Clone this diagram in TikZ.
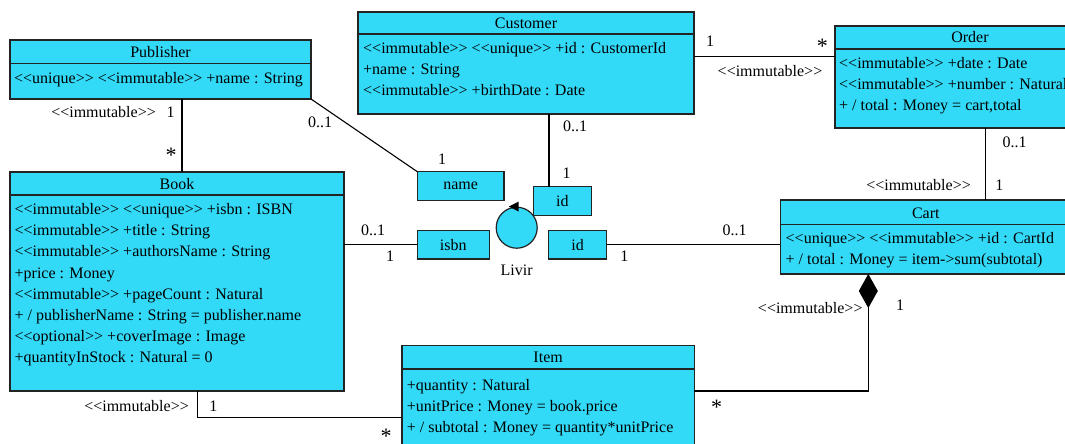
\documentclass[tikz,border=0pt]{standalone}
\usepackage{fontspec}
\setmainfont{Liberation Serif}[Ligatures=TeXOff]
\usetikzlibrary{calc,arrows.meta}
\definecolor{clsfill}{RGB}{51,218,248}
\definecolor{clsline}{RGB}{35,35,35}
\begin{document}
\begin{tikzpicture}[x=1pt,y=-1pt,
  font=\fontsize{16}{21}\selectfont,
  cls/.style={draw=clsline, fill=clsfill, line width=1.2pt, inner sep=0pt, outer sep=0pt, anchor=north west},
  keybox/.style={draw=clsline, fill=clsfill, line width=1.2pt, inner sep=0pt, outer sep=0pt, anchor=north west},
  sep/.style={draw=clsline, line width=1.2pt},
  attr/.style={anchor=base west, inner sep=0pt},
  ttl/.style={anchor=base, inner sep=0pt},
  lbl/.style={anchor=base, inner sep=0pt},
  lble/.style={anchor=base east, inner sep=0pt},
  star/.style={anchor=base, inner sep=0pt, font=\fontsize{22}{22}\selectfont, yshift=-11pt},
  conn/.style={draw=black, line width=1.1pt},
]
\clip (0,0) rectangle (1065,444);
\fill[white] (0,0) rectangle (1065,444);

% ---------- Publisher
\node[cls, minimum width=301pt, minimum height=59pt] (pub) at (10,40) {};
\draw[sep] ($(pub.north west)+(0,23.3)$) -- ($(pub.north east)+(0,23.3)$);
\node[ttl] (pubT) at ($(pub.north)+(0,17.2)$) {Publisher};
\node[attr] (pubA1) at (14,84) {<<unique>> <<immutable>> +name : String};

% ---------- Customer
\node[cls, minimum width=336pt, minimum height=102pt] (cust) at (358,12) {};
\draw[sep] ($(cust.north west)+(0,22)$) -- ($(cust.north east)+(0,22)$);
\node[ttl] (custT) at ($(cust.north)+(0,16.3)$) {Customer};
\node[attr] (custA1) at (363,53.3) {<<immutable>> <<unique>> +id : CustomerId};
\node[attr] (custA2) at (363,74.3) {+name : String};
\node[attr] (custA3) at (363,95) {<<immutable>> +birthDate : Date};

% ---------- Order
\node[cls, minimum width=270pt, minimum height=102pt] (order) at (835,26) {};
\draw[sep] ($(order.north west)+(0,23)$) -- ($(order.north east)+(0,23)$);
\node[ttl] (orderT) at ($(order.north)+(0,16.8)$) {Order};
\node[attr] (orderA1) at (839,68.3) {<<immutable>> +date : Date};
\node[attr] (orderA2) at (839,89.5) {<<immutable>> +number : Natural};
\node[attr] (orderA3) at (839,110.5) {+ / total : Money = cart,total};

% ---------- Book
\node[cls, minimum width=334pt, minimum height=219pt] (book) at (10,172) {};
\draw[sep] ($(book.north west)+(0,23)$) -- ($(book.north east)+(0,23)$);
\node[ttl] (bookT) at ($(book.north)+(0,17)$) {Book};
\node[attr] (bookA1) at (14.5,214.5) {<<immutable>> <<unique>> +isbn : ISBN};
\node[attr] (bookA2) at (14.5,235.7) {<<immutable>> +title : String};
\node[attr] (bookA3) at (14.5,256.8) {<<immutable>> +authorsName : String};
\node[attr] (bookA4) at (14.5,278.0) {+price : Money};
\node[attr] (bookA5) at (14.5,299.2) {<<immutable>> +pageCount : Natural};
\node[attr] (bookA6) at (14.5,320.3) {+ / publisherName : String = publisher.name};
\node[attr] (bookA7) at (14.5,341.5) {<<optional>> +coverImage : Image};
\node[attr] (bookA8) at (14.5,362.7) {+quantityInStock : Natural = 0};

% ---------- Cart
\node[cls, minimum width=291pt, minimum height=74pt] (cart) at (780.3,200) {};
\draw[sep] ($(cart.north west)+(0,24.3)$) -- ($(cart.north east)+(0,24.3)$);
\node[ttl] (cartT) at ($(cart.north)+(0,18)$) {Cart};
\node[attr] (cartA1) at (785.5,243.3) {<<unique>> <<immutable>> +id : CartId};
\node[attr] (cartA2) at (785.5,264.5) {+ / total : Money = item->sum(subtotal)};

% ---------- Item
\node[cls, minimum width=292.3pt, minimum height=120pt] (item) at (402,345.7) {};
\draw[sep] ($(item.north west)+(0,23.3)$) -- ($(item.north east)+(0,23.3)$);
\node[ttl] (itemT) at ($(item.north)+(0,16.5)$) {Item};
\node[attr] (itemA1) at (406.7,390) {+quantity : Natural};
\node[attr] (itemA2) at (406.7,411) {+unitPrice : Money = book.price};
\node[attr] (itemA3) at (406.7,432) {+ / subtotal : Money = quantity*unitPrice};

% ---------- key boxes and Livir
\node[keybox, minimum width=86.7pt, minimum height=29pt] (name) at (417.3,171.7) {};
\node (nameT) at (name.center) {name};
\node[keybox, minimum width=58pt, minimum height=29pt] (idA) at (533.3,186.7) {};
\node (idAT) at (idA.center) {id};
\node[keybox, minimum width=72pt, minimum height=28.3pt] (isbn) at (417.3,230.7) {};
\node (isbnT) at (isbn.center) {isbn};
\node[keybox, minimum width=58pt, minimum height=28.3pt] (idB) at (548.7,230.7) {};
\node (idBT) at (idB.center) {id};

\node[circle, draw=clsline, fill=clsfill, line width=1.2pt, minimum size=41pt, inner sep=0pt] (livir) at (516.7,227.7) {};
\fill[black] ($(livir.north)+(-8,0)$) -- ++(10,-5) -- ++(0,10) -- cycle;
\node[lbl] (livirT) at (516.7,275) {Livir};

% ---------- connectors
\draw[conn] (pub.south -| 182,0) -- (book.north -| 182,0);
\node[lble] at (156,117.7) {<<immutable>>};
\node[lbl] at (170.7,117.7) {1};
\node[star] at (171,151.7) {*};

\draw[conn] (pub.south east) -- (name.north west);
\node[lbl] at (320,127.3) {0..1};
\node[lbl] at (442,164) {1};

\draw[conn] (cust.south -| 549,0) -- (idA.north -| 549,0);
\node[lbl] at (575,131) {0..1};
\node[lbl] at (566.7,178.3) {1};

\draw[conn] (cust.east |- 0,56.7) -- (order.west |- 0,56.7);
\node[lbl] at (710,46.7) {1};
\node[star] at (822.3,42.7) {*};
\node[lbl] at (770,76.7) {<<immutable>>};

\draw[conn] (order.south -| 985.3,0) -- (cart.north -| 985.3,0);
\node[lbl] at (1014.7,147.3) {0..1};
\node[lble] at (971,190) {<<immutable>>};
\node[lbl] at (999.3,190) {1};

\draw[conn] (book.east |- isbn.west) -- (isbn.west);
\node[lbl] at (373,235) {0..1};
\node[lbl] at (390,261) {1};

\draw[conn] (idB.east) -- (cart.west |- idB.east);
\node[lbl] at (624.3,261) {1};
\node[lbl] at (734.5,235) {0..1};

\draw[conn, {Diamond[length=34pt,width=19pt]}-] (cart.south -| 868.3,0) |- (item.east |- 0,391);
\node[lble] at (862.7,313.3) {<<immutable>>};
\node[lbl] at (900,310.7) {1};
\node[star] at (716.7,403.3) {*};

\draw[conn] (book.south -| 197.7,0) |- (item.west |- 0,417.7);
\node[lble] at (189,411.7) {<<immutable>>};
\node[lbl] at (213.3,411.7) {1};
\node[star] at (386,432.3) {*};
\end{tikzpicture}
\end{document}
